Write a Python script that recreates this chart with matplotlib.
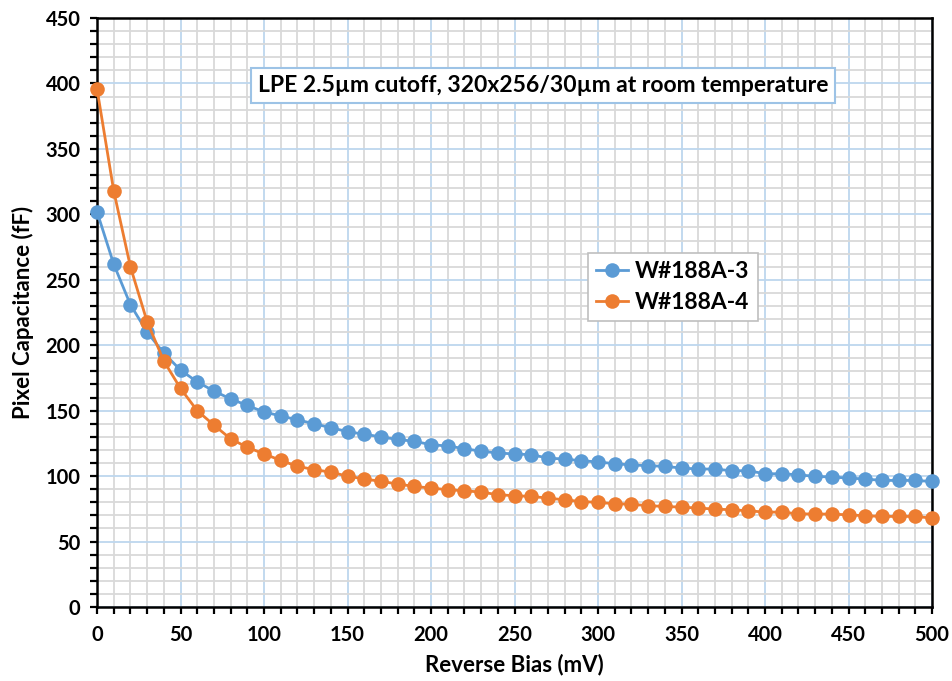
import matplotlib
matplotlib.use("Agg")
import matplotlib.pyplot as plt
from matplotlib.ticker import MultipleLocator

plt.rcParams['font.family'] = ['Lato', 'DejaVu Sans']

bias_mv = list(range(0, 510, 10))

cap_188a3 = [302, 262, 231, 210, 194, 181, 172, 165, 159, 154,
             149, 146, 143, 140, 137, 134, 132, 130, 128, 126.6,
             124, 123, 121, 119, 117.7, 116.9, 116.4, 113.8, 113, 111.8,
             110.8, 109.5, 108.5, 108, 107.4, 106.2, 105.4, 105.4, 104.1, 104.1,
             101.8, 101.8, 101, 99.8, 99.3, 98.5, 97.8, 96.7, 96.7, 96.7,
             95.9]

cap_188a4 = [396, 318, 260, 218, 188, 167, 150, 139, 128.5, 122,
             117, 112, 107.5, 105, 103, 100, 97.8, 96, 94, 92.1,
             90.9, 89.6, 88.8, 87.8, 85.8, 85, 84.5, 83.2, 81.9, 80.6,
             79.9, 78.9, 78.5, 77.4, 76.8, 76.3, 75.6, 74.8, 74.3, 73.5,
             72.5, 72.5, 71.2, 71, 71, 70.4, 69.7, 69.2, 69.2, 69.2,
             67.9]

series_names = ['W#188A-3', 'W#188A-4']
series_colors = ['#5B9BD5', '#ED7D31']
title_text = 'LPE 2.5µm cutoff, 320x256/30µm at room temperature'

fig = plt.figure(figsize=(9.52, 6.81), dpi=100)
ax = fig.add_axes([97 / 952, 1 - 607 / 681, (932 - 97) / 952, (607 - 18) / 681])

for vals, name, col in zip([cap_188a3, cap_188a4], series_names, series_colors):
    ax.plot(bias_mv, vals, color=col, lw=2.0, marker='o', ms=10.5,
            markeredgewidth=0, label=name, zorder=3, clip_on=False)

ax.set_xlim(0, 500)
ax.set_ylim(0, 450)
ax.xaxis.set_major_locator(MultipleLocator(50))
ax.xaxis.set_minor_locator(MultipleLocator(10))
ax.yaxis.set_major_locator(MultipleLocator(50))
ax.yaxis.set_minor_locator(MultipleLocator(10))

ax.grid(which='minor', color='#D9D9D9', lw=1.3, zorder=0)
ax.grid(which='major', color='#BDD7EE', lw=1.3, zorder=1)
ax.set_axisbelow(True)

for s in ax.spines.values():
    s.set_color('black')
    s.set_linewidth(1.8)

ax.tick_params(which='both', direction='out', length=5, width=1.6, color='black')
ax.tick_params(which='major', labelsize=14.5, pad=7)
ax.tick_params(axis='x', which='major', pad=8)
for lab in ax.get_xticklabels() + ax.get_yticklabels():
    lab.set_fontweight('bold')

ax.set_xlabel('Reverse Bias (mV)', fontsize=16, fontweight='bold', labelpad=6)
ax.set_ylabel('Pixel Capacitance (fF)', fontsize=16, fontweight='bold', labelpad=8)

ax.text(0.534, 0.885, title_text, transform=ax.transAxes, ha='center', va='center',
        fontsize=16.5, fontweight='bold', zorder=5,
        bbox=dict(boxstyle='square,pad=0.3', fc='white', ec='#9DC3E6', lw=1.5))

leg = ax.legend(loc='upper left', bbox_to_anchor=((588 - 97) / 835, 1 - (253 - 18) / 589),
                prop=dict(size=16.5, weight='bold'), frameon=True, fancybox=False,
                edgecolor='#BFBFBF', framealpha=1, handlelength=1.4,
                borderpad=0.35, labelspacing=0.45, handletextpad=0.3, borderaxespad=0)
leg.get_frame().set_linewidth(1.2)

fig.savefig('out.png', dpi=100, facecolor='white')
